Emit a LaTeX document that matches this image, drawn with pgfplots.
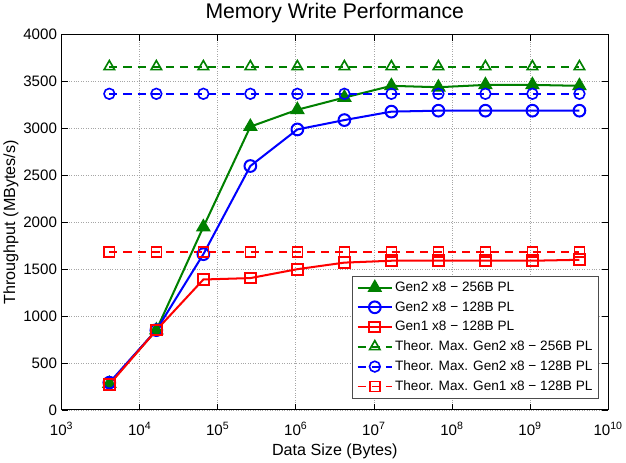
\documentclass[border=0pt]{standalone}
\usepackage{pgfplots}
\pgfplotsset{compat=1.18}
\usepackage{fontspec}
\setmainfont{Liberation Sans}
\definecolor{mgreen}{rgb}{0,0.5,0}
\begin{document}
\begin{tikzpicture}
\begin{axis}[
  scale only axis, width=542pt, height=372pt,
  xmode=log, log basis x=10,
  xmin=1e3, xmax=1e10, ymin=0, ymax=4000,
  xtick={1e3,1e4,1e5,1e6,1e7,1e8,1e9,1e10},
  xticklabels={10\textsuperscript{3},10\textsuperscript{4},10\textsuperscript{5},10\textsuperscript{6},10\textsuperscript{7},10\textsuperscript{8},10\textsuperscript{9},10\textsuperscript{10}},
  ytick={0,500,...,4000},
  /pgf/number format/assume math mode=true,
  /pgf/number format/1000 sep={},
  xmajorgrids, xminorgrids, ymajorgrids,
  major grid style={dotted, gray!70, line width=0.6pt},
  minor grid style={dotted, gray!55, line width=0.5pt},
  tick align=inside, major tick length=6pt, minor tick length=3pt,
  tick style={black, line width=0.6pt},
  axis line style={black, line width=0.8pt},
  ticklabel style={font=\fontsize{15}{17}\selectfont},
  xticklabel style={yshift=-9pt},
  yticklabel style={xshift=-1pt},
  xlabel style={font=\fontsize{16}{18}\selectfont, yshift=-2pt},
  ylabel style={font=\fontsize{16}{18}\selectfont, yshift=-2pt},
  title style={font=\fontsize{21}{24}\selectfont, yshift=2pt},
  title={Memory Write Performance},
  xlabel={Data Size (Bytes)},
  ylabel={Throughput (MBytes/s)},
  legend style={at={(0.983,0.03)}, anchor=south east, font=\fontsize{13.5}{16}\selectfont, draw=black!70, line width=0.6pt, row sep=4.5pt, inner sep=4pt},
  legend cell align=left,
  legend image code/.code={\draw[mark repeat=2,mark phase=2] plot coordinates {(0cm,0cm) (0.6cm,0cm) (1.2cm,0cm)};},
]
\addplot[mgreen, line width=2pt, mark=triangle*, mark size=6.5pt, mark options={solid, fill=mgreen}] coordinates {
(4096,280) (16384,850) (65536,1950) (262144,3020) (1048576,3200) (4194304,3330) (16777216,3455) (67108864,3440) (268435456,3465) (1073741824,3465) (4294967296,3455)};
\addlegendentry{Gen2 x8 \char"2212\ 256B PL}
\addplot[blue, line width=2pt, mark=o, mark size=5.8pt, mark options={solid}] coordinates {
(4096,290) (16384,850) (65536,1660) (262144,2600) (1048576,2990) (4194304,3090) (16777216,3180) (67108864,3190) (268435456,3190) (1073741824,3190) (4294967296,3190)};
\addlegendentry{Gen2 x8 \char"2212\ 128B PL}
\addplot[red, line width=2pt, mark=square, mark size=5.3pt, mark options={solid}] coordinates {
(4096,270) (16384,850) (65536,1390) (262144,1405) (1048576,1500) (4194304,1570) (16777216,1590) (67108864,1590) (268435456,1590) (1073741824,1590) (4294967296,1600)};
\addlegendentry{Gen1 x8 \char"2212\ 128B PL}
\addplot[mgreen, line width=1.8pt, dash pattern=on 8pt off 6pt, mark=triangle, mark size=6pt, mark options={solid, line width=1.6pt}] coordinates {
(4096,3660) (16384,3660) (65536,3660) (262144,3660) (1048576,3660) (4194304,3660) (16777216,3660) (67108864,3660) (268435456,3660) (1073741824,3660) (4294967296,3660)};
\addlegendentry{Theor. Max. Gen2 x8 \char"2212\ 256B PL}
\addplot[blue, line width=1.8pt, dash pattern=on 8pt off 6pt, mark=o, mark size=5.3pt, mark options={solid, line width=1.6pt}] coordinates {
(4096,3370) (16384,3370) (65536,3370) (262144,3370) (1048576,3370) (4194304,3370) (16777216,3370) (67108864,3370) (268435456,3370) (1073741824,3370) (4294967296,3370)};
\addlegendentry{Theor. Max. Gen2 x8 \char"2212\ 128B PL}
\addplot[red, line width=1.8pt, dash pattern=on 8pt off 6pt, mark=square, mark size=5pt, mark options={solid, line width=1.6pt}] coordinates {
(4096,1685) (16384,1685) (65536,1685) (262144,1685) (1048576,1685) (4194304,1685) (16777216,1685) (67108864,1685) (268435456,1685) (1073741824,1685) (4294967296,1685)};
\addlegendentry{Theor. Max. Gen1 x8 \char"2212\ 128B PL}
\end{axis}
\end{tikzpicture}
\end{document}
